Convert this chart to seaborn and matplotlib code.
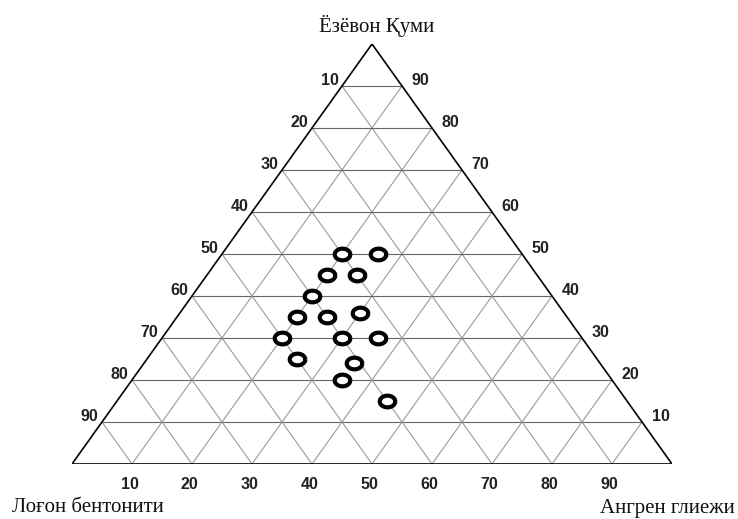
import numpy as np
import pandas as pd
import matplotlib.pyplot as plt
import seaborn as sns

# ternary data, percent (top = Ёзёвон Қуми, right = Ангрен глиежи)
top_vals = [50, 50, 45, 45, 40, 35, 35, 36, 30, 30, 30, 25, 24, 20, 15]
right_vals = [20, 26, 20, 25, 20, 20, 25, 30, 20, 30, 36, 25, 35, 35, 45]
left_vals = [100 - t - r for t, r in zip(top_vals, right_vals)]

tick_steps = [10, 20, 30, 40, 50, 60, 70, 80, 90]
left_labels = ['90', '80', '70', '60', '50', '40', '30', '20', '10']   # bottom -> top
right_labels = ['10', '20', '30', '40', '50', '60', '70', '80', '90']  # bottom -> top
bottom_labels = ['10', '20', '30', '40', '50', '60', '70', '80', '90']

df = pd.DataFrame({'top': top_vals, 'right': right_vals, 'left': left_vals})
df['x'] = df['right'] + df['top'] / 2
df['y'] = df['top']

sns.set_style('white')
W, H = 738, 519
fig = plt.figure(figsize=(W / 100, H / 100), dpi=100)
ax = fig.add_axes([72 / W, 55 / H, 600 / W, 420 / H])
ax.set_xlim(0, 100)
ax.set_ylim(0, 100)
ax.axis('off')

# grid
for k in tick_steps:
    ax.plot([k / 2, 100 - k / 2], [k, k], color='#666666', lw=0.8, zorder=1)
    ax.plot([k, k + (100 - k) / 2], [0, 100 - k], color='#9a9a9a', lw=0.8, zorder=1)
    ax.plot([100 - k, (100 - k) / 2], [0, 100 - k], color='#9a9a9a', lw=0.8, zorder=1)

# triangle border
ax.plot([0, 100, 50, 0], [0, 0, 100, 0], color='black', lw=1.2, zorder=2,
        solid_joinstyle='miter')

theta = np.linspace(0, 2 * np.pi, 60)
ring = np.column_stack([np.cos(theta), 0.75 * np.sin(theta)])
sns.scatterplot(data=df, x='x', y='y', marker=ring, s=125, color='white',
                edgecolor='black', linewidth=3.0, ax=ax, zorder=5)
ax.set_xlabel('')
ax.set_ylabel('')

tick_font = dict(family='Liberation Sans', fontsize=11.5, fontweight='bold', color='#222222')
for t, lab in zip(tick_steps, left_labels):
    ax.text(t / 2 - 0.6, t + 1.4, lab, ha='right', va='center', clip_on=False, **tick_font)
for t, lab in zip(tick_steps, right_labels):
    ax.text(100 - t / 2 + 1.6, t + 1.4, lab, ha='left', va='center', clip_on=False, **tick_font)
for k, lab in zip(tick_steps, bottom_labels):
    ax.text(k - 0.4, -3.0, lab, ha='center', va='top', clip_on=False, **tick_font)

title_font = dict(family='Liberation Serif', fontsize=15, color='#111111')
fig.text(377 / W, 1 - 26 / H, 'Ёзёвон Қуми', ha='center', va='center', **title_font)
fig.text(12 / W, 1 - 507 / H, 'Лоғон бентонити', ha='left', va='center', **title_font)
fig.text(735 / W, 1 - 508 / H, 'Ангрен глиежи', ha='right', va='center', **title_font)

fig.savefig('out.png', dpi=100, facecolor='white')
